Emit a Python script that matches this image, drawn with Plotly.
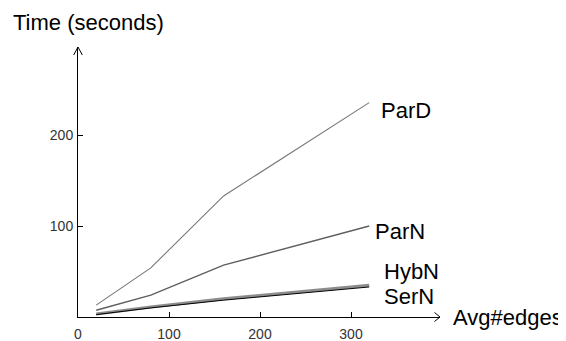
import plotly.graph_objects as go

edges = [20, 80, 160, 320]
par_d = [13, 54, 133, 235.6]
par_n = [7.4, 24, 57, 100]
hyb_n = [3.2, 11, 20, 35]
ser_n = [2.6, 10, 18.5, 33]

series = [
    ("ParD", par_d, "#777777", 1.1, 10, -8),
    ("ParN", par_n, "#5e5e5e", 1.4, 4, -5),
    ("HybN", hyb_n, "#8c8c8c", 3, 13, 14),
    ("SerN", ser_n, "#000000", 1, 13, -10),
]

x_ticks = [0, 100, 200, 300]
y_ticks = [100, 200]

# page body has an 8px margin; figure is sized to fit the 566x341 window
W, H = 558, 333
L, T = 70, 39
PW, PH = 362, 270
R, B = W - L - PW, H - T - PH
XMAX = PW / 0.91
YMAX = PH / 0.91
FONT = "Liberation Sans, Arial, sans-serif"

fig = go.Figure()
for name, vals, color, width, _, _ in series:
    fig.add_trace(go.Scatter(x=edges, y=vals, mode="lines", name=name,
                             line=dict(color=color, width=width)))

annotations = []
for name, vals, color, width, dx, dy in series:
    annotations.append(dict(x=edges[-1], y=vals[-1], xref="x", yref="y", text=name,
                            showarrow=False, xanchor="left", yanchor="middle",
                            xshift=dx, yshift=dy,
                            font=dict(family=FONT, size=22, color="black")))
annotations.append(dict(x=0, y=1, xref="paper", yref="paper", text="Time (seconds)",
                        showarrow=False, xanchor="left", yanchor="middle",
                        xshift=-67, yshift=25,
                        font=dict(family=FONT, size=22, color="black")))
annotations.append(dict(x=1, y=0, xref="paper", yref="paper", text="Avg#edges",
                        showarrow=False, xanchor="left", yanchor="middle",
                        xshift=11, yshift=0,
                        font=dict(family=FONT, size=22, color="black")))

shapes = []
# y axis arrowhead (open chevron)
for sx in (-4.3, 4.3):
    shapes.append(dict(type="line", xref="paper", yref="paper",
                       x0=sx / PW, y0=1 - 8 / PH, x1=0, y1=1,
                       line=dict(color="black", width=1)))
# x axis arrowhead
for sy in (-4.5, 4.5):
    shapes.append(dict(type="line", xref="paper", yref="paper",
                       x0=1 - 5.5 / PW, y0=sy / PH, x1=1, y1=0,
                       line=dict(color="black", width=1)))

fig.update_layout(
    width=W, height=H,
    margin=dict(l=L, r=R, t=T, b=B),
    plot_bgcolor="white", paper_bgcolor="white",
    showlegend=False,
    annotations=annotations,
    shapes=shapes,
    font=dict(family=FONT),
    xaxis=dict(range=[0, XMAX], showgrid=False, zeroline=False, showline=True, automargin=False,
               linecolor="black", linewidth=1, ticks="inside", ticklen=5, tickcolor="black",
               tickvals=x_ticks, ticktext=[str(v) for v in x_ticks],
               tickfont=dict(family=FONT, size=14, color="#333333"), ticklabelstandoff=4),
    yaxis=dict(range=[0, YMAX], showgrid=False, zeroline=False, showline=True, automargin=False,
               linecolor="black", linewidth=1, ticks="inside", ticklen=5, tickcolor="black",
               tickvals=y_ticks, ticktext=[str(v) for v in y_ticks],
               tickfont=dict(family=FONT, size=14, color="#333333"), ticklabelstandoff=1),
)

fig.write_html("out.html")
